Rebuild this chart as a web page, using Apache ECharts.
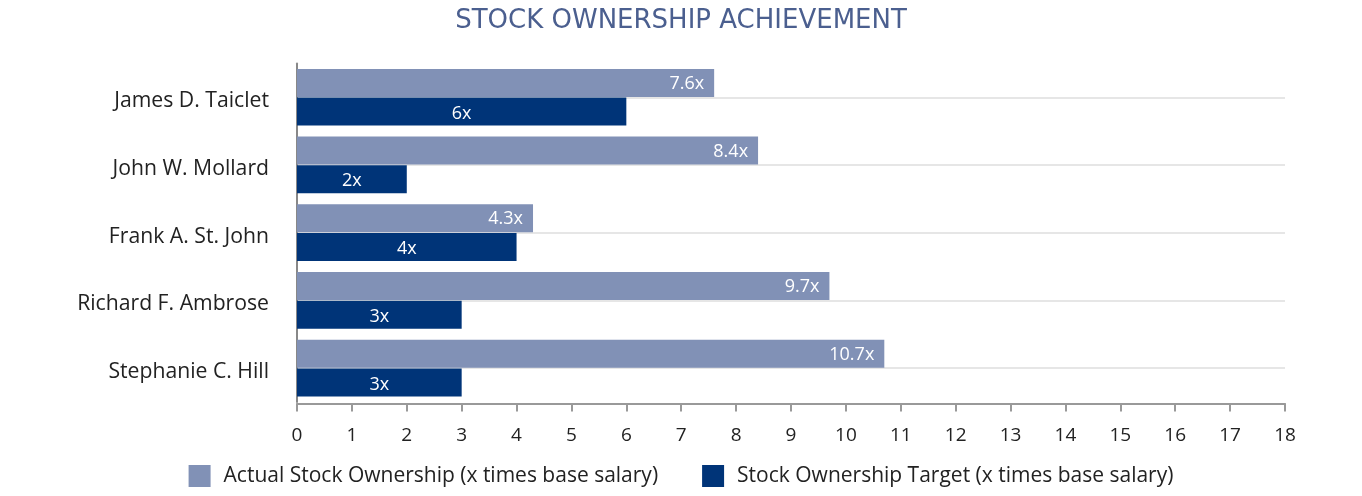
<!DOCTYPE html>
<html><head><meta charset="utf-8">
<script src="https://cdn.jsdelivr.net/npm/echarts@6/dist/echarts.min.js"></script>
<style>html,body{margin:0;padding:0;background:#fff}#c{width:1362px;height:496px}</style>
</head><body><div id="c"></div>
<script>
var categories = ["James D. Taiclet", "John W. Mollard", "Frank A. St. John", "Richard F. Ambrose", "Stephanie C. Hill"];
var actualValues = [7.6, 8.4, 4.3, 9.7, 10.7];
var targetValues = [6, 2, 4, 3, 3];
var seriesNames = ["Actual Stock Ownership (x times base salary)", "Stock Ownership Target (x times base salary)"];
var xTicks = {min: 0, max: 18, interval: 1};

var font = "'Open Sans', sans-serif";
var chart = echarts.init(document.getElementById('c'));
chart.setOption({
  animation: false,
  title: {text: "STOCK OWNERSHIP ACHIEVEMENT", left: 'center', top: 3,
    textStyle: {fontFamily: "'DejaVu Sans', sans-serif", fontSize: 26, fontWeight: 'normal', color: '#4b5f8f'}},
  legend: {bottom: 4, left: 'center', itemWidth: 22, itemHeight: 22, itemGap: 44,
    icon: 'rect', textStyle: {fontFamily: font, fontSize: 21, color: '#222', padding: [0, 0, 0, 8]}},
  grid: {left: 297, right: 77, top: 63.4, bottom: 94.1, containLabel: false},
  xAxis: {type: 'value', min: xTicks.min, max: xTicks.max, interval: xTicks.interval, offset: 1.5,
    axisLine: {show: true, lineStyle: {color: '#999', width: 2}},
    axisTick: {show: true, length: 8, lineStyle: {color: '#999', width: 2}},
    axisLabel: {fontFamily: font, fontSize: 19, color: '#222', margin: 23},
    splitLine: {show: false}},
  yAxis: {type: 'category', data: categories, inverse: true,
    axisLine: {show: true, lineStyle: {color: '#888', width: 2}},
    axisTick: {show: false},
    axisLabel: {fontFamily: font, fontSize: 21.2, color: '#222', margin: 28,
      verticalAlign: 'top', lineHeight: 8},
    splitLine: {show: true, alignWithLabel: true, lineStyle: {color: '#e6e6e6', width: 2}}},
  series: [
    {name: seriesNames[0], type: 'bar', data: actualValues, barWidth: 28, barGap: '2.5%',
      itemStyle: {color: '#8191b6'},
      label: {show: true, position: 'insideRight', distance: 10, offset: [0, 1], formatter: '{c}x',
        fontFamily: font, fontSize: 18, color: '#fff'}},
    {name: seriesNames[1], type: 'bar', data: targetValues, barWidth: 28,
      itemStyle: {color: '#003478'},
      label: {show: true, position: 'inside', offset: [0, 2], formatter: '{c}x',
        fontFamily: font, fontSize: 18, color: '#fff'}}
  ]
});
</script></body></html>
